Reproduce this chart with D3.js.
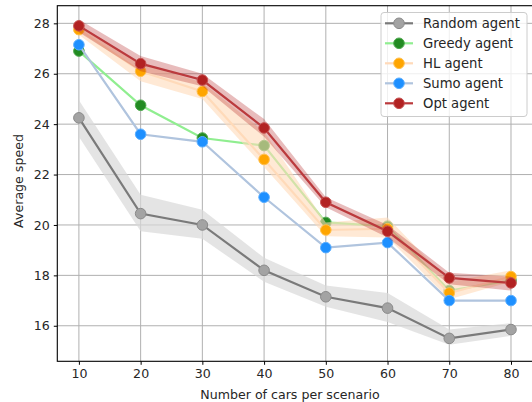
<!DOCTYPE html>
<html>
<head>
<meta charset="utf-8">
<script src="https://cdn.jsdelivr.net/npm/d3@7"></script>
<style>
  body { margin: 0; background: #fff; }
  svg { display: block; font-family: "DejaVu Sans", sans-serif; }
</style>
</head>
<body>
<svg width="532" height="402"></svg>
<script>
// values
const cars = [10, 20, 30, 40, 50, 60, 70, 80];
const xTicks = [10, 20, 30, 40, 50, 60, 70, 80];
const yTicks = [16, 18, 20, 22, 24, 26, 28];

const randomMean = [24.25, 20.45, 20.0, 18.2, 17.15, 16.7, 15.5, 15.85];
const randomLo   = [23.5, 19.75, 19.45, 17.75, 16.75, 16.15, 15.25, 15.6];
const randomHi   = [24.95, 21.2, 20.6, 18.7, 17.6, 17.3, 15.85, 16.1];

const greedyMean = [26.9, 24.75, 23.45, 23.15, 20.1, 19.95, 17.4, 17.8];

const hlMean = [27.75, 26.1, 25.3, 22.6, 19.8, 19.85, 17.3, 17.95];
const hlLo   = [27.55, 25.7, 25.0, 22.3, 19.55, 19.5, 17.05, 17.75];
const hlHi   = [27.95, 26.4, 25.65, 23.7, 20.1, 20.3, 17.75, 18.2];

const sumoMean = [27.15, 23.6, 23.3, 21.1, 19.1, 19.3, 17.0, 17.0];

const optMean = [27.9, 26.4, 25.75, 23.85, 20.9, 19.75, 17.9, 17.7];
const optLo   = [27.65, 26.1, 25.5, 23.5, 20.7, 19.5, 17.65, 17.4];
const optHi   = [28.15, 26.7, 26.0, 24.2, 21.1, 20.0, 18.1, 17.95];

const agents = [
  { name: "Random agent", mean: randomMean, lo: randomLo, hi: randomHi, line: "#7a7a7a", band: "#d9d9d9", bandOp: 0.7, marker: "#a3a3a3", edge: "#8a8a8a" },
  { name: "Greedy agent", mean: greedyMean, lo: null, hi: null, line: "#90ee90", band: null, marker: "#228b22", edge: "#4fa94f" },
  { name: "HL agent", mean: hlMean, lo: hlLo, hi: hlHi, line: "#ffdab9", band: "#ffdab9", bandOp: 0.6, marker: "#ffa500", edge: "#ffc04d" },
  { name: "Sumo agent", mean: sumoMean, lo: null, hi: null, line: "#b0c4de", band: null, marker: "#1e90ff", edge: "#5aaeff" },
  { name: "Opt agent", mean: optMean, lo: optLo, hi: optHi, line: "#bb3a3d", band: "#b22222", bandOp: 0.3, marker: "#b22222", edge: "#c65050" }
];

const svg = d3.select("svg");
const mLeft = 57.3, mRight = 532.6, mTop = 5.7, mBottom = 361.3;
const fs = 12.6;

const x = d3.scaleLinear().domain([6.5, 83.5]).range([mLeft, mRight]);
const y = d3.scaleLinear().domain([14.59, 28.70]).range([mBottom, mTop]);

// grid
const grid = svg.append("g");
xTicks.forEach(t => grid.append("line")
  .attr("x1", x(t)).attr("x2", x(t)).attr("y1", mTop).attr("y2", mBottom)
  .attr("stroke", "#b0b0b0").attr("stroke-width", 1));
yTicks.forEach(t => grid.append("line")
  .attr("x1", mLeft).attr("x2", mRight).attr("y1", y(t)).attr("y2", y(t))
  .attr("stroke", "#b0b0b0").attr("stroke-width", 1));

const line = d3.line().x((d, i) => x(cars[i])).y(d => y(d));

agents.forEach(a => {
  if (a.lo) {
    const area = d3.area()
      .x((d, i) => x(cars[i]))
      .y0((d, i) => y(a.lo[i]))
      .y1((d, i) => y(a.hi[i]));
    svg.append("path").attr("d", area(a.mean))
      .attr("fill", a.band).attr("fill-opacity", a.bandOp);
  }
  svg.append("path").attr("d", line(a.mean))
    .attr("fill", "none").attr("stroke", a.line).attr("stroke-width", 2.2);
  svg.append("g").selectAll("circle").data(a.mean).join("circle")
    .attr("cx", (d, i) => x(cars[i])).attr("cy", d => y(d))
    .attr("r", 5.3)
    .attr("fill", a.marker).attr("stroke", a.edge).attr("stroke-width", 1);
});

// spines
svg.append("rect").attr("x", mLeft).attr("y", mTop)
  .attr("width", mRight - mLeft).attr("height", mBottom - mTop)
  .attr("fill", "none").attr("stroke", "#000").attr("stroke-width", 1.1);

// axes
const xAxis = svg.append("g").attr("transform", `translate(0,${mBottom})`)
  .call(d3.axisBottom(x).tickValues(xTicks).tickSize(3.5).tickPadding(4));
const yAxis = svg.append("g").attr("transform", `translate(${mLeft},0)`)
  .call(d3.axisLeft(y).tickValues(yTicks).tickSize(3.5).tickPadding(4));
[xAxis, yAxis].forEach(g => {
  g.select(".domain").remove();
  g.selectAll("text").attr("font-size", fs).attr("fill", "#262626")
    .attr("font-family", "DejaVu Sans");
});

svg.append("text").attr("x", 290).attr("y", 399)
  .attr("text-anchor", "middle").attr("font-size", fs).attr("fill", "#262626")
  .text("Number of cars per scenario");
svg.append("text").attr("transform", "translate(22.5,181) rotate(-90)")
  .attr("text-anchor", "middle").attr("font-size", fs).attr("fill", "#262626")
  .text("Average speed");

// legend
const lg = svg.append("g");
lg.append("rect").attr("x", 381).attr("y", 12.5).attr("width", 146).attr("height", 104)
  .attr("rx", 3).attr("fill", "#fff").attr("fill-opacity", 0.8)
  .attr("stroke", "#cccccc").attr("stroke-width", 1);
agents.forEach((a, i) => {
  const yy = 23.3 + i * 20;
  lg.append("line").attr("x1", 385).attr("x2", 413).attr("y1", yy).attr("y2", yy)
    .attr("stroke", a.line).attr("stroke-width", 2.2);
  lg.append("circle").attr("cx", 399).attr("cy", yy).attr("r", 5.3)
    .attr("fill", a.marker).attr("stroke", a.edge).attr("stroke-width", 1);
  lg.append("text").attr("x", 423).attr("y", yy + 4.6)
    .attr("font-size", 13.2).attr("fill", "#262626").text(a.name);
});
</script>
</body>
</html>
